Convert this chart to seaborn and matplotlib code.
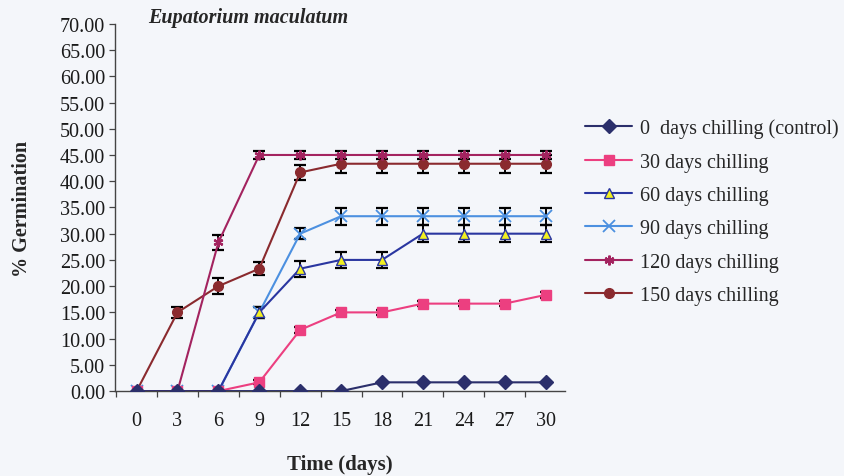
import numpy as np
import pandas as pd
import seaborn as sns
import matplotlib
matplotlib.use("Agg")
import matplotlib.pyplot as plt
from matplotlib.ticker import FixedLocator, FormatStrFormatter

days = [0, 3, 6, 9, 12, 15, 18, 21, 24, 27, 30]
series_names = ["0  days chilling (control)", "30 days chilling", "60 days chilling",
                "90 days chilling", "120 days chilling", "150 days chilling"]
g0 = [0, 0, 0, 0, 0, 0, 1.67, 1.67, 1.67, 1.67, 1.67]
g30 = [0, 0, 0, 1.67, 11.67, 15.0, 15.0, 16.67, 16.67, 16.67, 18.33]
g60 = [0, 0, 0, 15.0, 23.33, 25.0, 25.0, 30.0, 30.0, 30.0, 30.0]
g90 = [0, 0, 0, 15.0, 30.0, 33.33, 33.33, 33.33, 33.33, 33.33, 33.33]
g120 = [0, 0, 28.33, 45.0, 45.0, 45.0, 45.0, 45.0, 45.0, 45.0, 45.0]
g150 = [0, 15.0, 20.0, 23.33, 41.67, 43.33, 43.33, 43.33, 43.33, 43.33, 43.33]
e0 = [0, 0, 0, 0, 0, 0, 0, 0, 0, 0, 0]
e30 = [0, 0, 0, 0.4, 0.6, 0.5, 0.5, 0.5, 0.5, 0.5, 0.6]
e60 = [0, 0, 0, 1.0, 1.5, 1.6, 1.6, 1.6, 1.6, 1.6, 1.6]
e90 = [0, 0, 0, 1.0, 1.0, 1.6, 1.6, 1.6, 1.6, 1.6, 1.6]
e120 = [0, 0, 1.5, 0.8, 0.8, 0.8, 0.8, 0.8, 0.8, 0.8, 0.8]
e150 = [0, 1.0, 1.5, 1.2, 1.5, 1.7, 1.7, 1.7, 1.7, 1.7, 1.7]

values = [g0, g30, g60, g90, g120, g150]
errors = [e0, e30, e60, e90, e120, e150]
colors = ["#2B2F6B", "#EC3F80", "#2A36A0", "#4C90E0", "#A3235F", "#8A2A2E"]
markers = ["D", "s", "^", "x", (6, 2, 0), "o"]
mfaces = ["#2B2F6B", "#EC3F80", "#F2F020", "#4C90E0", "#A3235F", "#8A2A2E"]

rows = []
for name, vals in zip(series_names, values):
    for d, v in zip(days, vals):
        rows.append({"day": d, "germ": v, "series": name})
df = pd.DataFrame(rows)

sns.set_theme(style="white")
plt.rcParams['font.family'] = ['Liberation Serif', 'DejaVu Serif']
bg = "#F4F6FA"
fig = plt.figure(figsize=(8.44, 4.77), dpi=100, facecolor=bg)
ax = fig.add_axes([0.136, 0.178, 0.533, 0.770])
ax.set_facecolor(bg)

# draw error bars first
for vals, errs in zip(values, errors):
    for d, v, e in zip(days, vals, errs):
        if e > 0:
            ax.errorbar(d, v, yerr=e, fmt="none", ecolor="black", elinewidth=1.4,
                        capsize=4.5, capthick=1.6, zorder=2)

for i, name in enumerate(series_names):
    sub = df[df.series == name]
    sns.lineplot(data=sub, x="day", y="germ", ax=ax, color=colors[i], linewidth=1.5,
                 marker=markers[i], markersize=7 if markers[i] != "x" else 8,
                 markerfacecolor=mfaces[i], markeredgecolor=colors[i],
                 markeredgewidth=1.3 if markers[i] in ("x",) else (1.6 if i == 4 else 1.0),
                 label=name, zorder=3 + (6 - i) * 0.1)

ax.set_xlim(-1.6, 31.4)
ax.set_ylim(0, 70)
ax.set_yticks(np.arange(0, 70.01, 5))
ax.yaxis.set_major_formatter(FormatStrFormatter("%.2f"))
ax.set_xticks(days)
ax.set_xticklabels([str(d) for d in days])
ax.xaxis.set_minor_locator(FixedLocator([d - 1.5 for d in days] + [31.5]))
ax.tick_params(axis="x", which="major", length=0, pad=14.5, labelsize=14.5, colors="#1a1a1a")
ax.tick_params(axis="x", which="minor", length=4, width=0.9, direction="out", color="#444", bottom=True)
ax.tick_params(axis="y", which="major", length=4, width=0.9, direction="out", color="#444",
               left=True, labelsize=14.5, pad=3, labelcolor="#1a1a1a")
for s in ["top", "right"]:
    ax.spines[s].set_visible(False)
for s in ["left", "bottom"]:
    ax.spines[s].set_color("#444")
    ax.spines[s].set_linewidth(1.0)

ax.set_xlabel("Time (days)", fontsize=15, fontweight="bold", labelpad=17)
ax.set_ylabel("% Germination", fontsize=14.5, fontweight="bold", labelpad=20)
fig.text(0.175, 0.962, "Eupatorium maculatum", fontsize=14.5, fontweight="bold",
         fontstyle="italic", ha="left", va="center")

handles, labels = ax.get_legend_handles_labels()
leg = ax.legend(handles, labels, loc="upper left", bbox_to_anchor=(1.027, 0.764),
                frameon=False, fontsize=14.5, handlelength=2.35, handletextpad=0.4,
                labelspacing=0.71, borderaxespad=0)

fig.savefig("out.png", dpi=100, facecolor=bg)
